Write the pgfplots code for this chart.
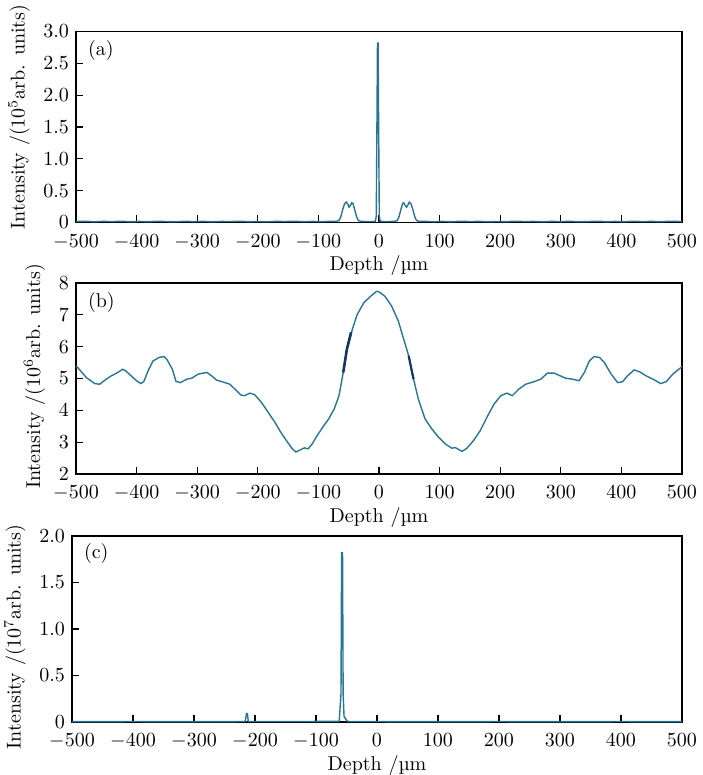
\documentclass[border=0pt]{standalone}
\usepackage{fontspec}
\usepackage{pgfplots}
\pgfplotsset{compat=1.18}
\definecolor{curve}{RGB}{38,118,148}
\definecolor{darkc}{RGB}{20,55,95}
\pgfplotsset{
  panel/.style={
    scale only axis, width=303pt, height=95.5pt,
    xmin=-500, xmax=500, xtick={-500,-400,...,500},
    tick pos=left, tick align=inside, major tick length=3.5pt,
    axis line style={line width=0.6pt},
    every tick/.style={line width=0.6pt, black},
    xticklabel style={inner ysep=0.5pt, yshift=-5.33pt},
    yticklabel style={inner ysep=0.5pt},
    xlabel={Depth /µm},
    xlabel style={yshift=0.67pt},
    every axis plot/.append style={line width=0.7pt, color=curve},
  }
}
\begin{document}
\begin{tikzpicture}
% ---------------- (a)
\begin{axis}[panel, at={(0pt,249.75pt)}, anchor=south west,
  ymin=0, ymax=3, ytick={0,0.5,1,1.5,2,2.5,3},
  yticklabels={0,0.5,1.0,1.5,2.0,2.5,3.0},
  ylabel={Intensity /(10$^5$arb. units)},
  ylabel style={xshift=5pt}]
\addplot[sharp plot] coordinates {
(-500,0.015) (-485,0.02) (-470,0.012) (-455,0.018) (-440,0.014) (-425,0.02) (-410,0.012)
(-395,0.017) (-380,0.013) (-365,0.02) (-350,0.015) (-335,0.012) (-320,0.019) (-305,0.014)
(-290,0.018) (-275,0.012) (-260,0.017) (-245,0.015) (-230,0.02) (-215,0.013) (-200,0.016)
(-185,0.012) (-170,0.018) (-155,0.015) (-140,0.02) (-125,0.013) (-110,0.017) (-95,0.014)
(-80,0.018) (-70,0.02) (-66,0.03) (-63,0.09) (-60,0.2) (-57,0.29) (-54,0.32) (-51,0.28)
(-49.5,0.24) (-47,0.27) (-45,0.31) (-43,0.3) (-40,0.2) (-37,0.09) (-34,0.03) (-30,0.018)
(-20,0.015) (-10,0.016) (-6,0.02) (-4.5,0.1) (-3.5,1.4) (-2.5,2.82) (-1.5,2.82) (-0.5,1.4) (0.5,0.1)
(2,0.02) (8,0.015) (18,0.016) (26,0.018) (30,0.03) (33,0.09) (36,0.2) (39,0.3) (41,0.31)
(43,0.27) (45.5,0.24) (48,0.28) (50,0.32) (53,0.29) (56,0.2) (59,0.09) (62,0.03) (66,0.02)
(75,0.018) (90,0.014) (105,0.017) (120,0.013) (135,0.02) (150,0.015) (165,0.018) (180,0.012)
(195,0.016) (210,0.013) (225,0.02) (240,0.015) (255,0.017) (270,0.012) (285,0.018)
(300,0.014) (315,0.019) (330,0.012) (345,0.015) (360,0.02) (375,0.013) (390,0.017)
(405,0.012) (420,0.02) (435,0.014) (450,0.018) (465,0.012) (480,0.02) (500,0.015)
};
\node[anchor=west, xshift=2.5pt] at (rel axis cs:0,0.9) {(a)};
\end{axis}
% ---------------- (b)
\begin{axis}[panel, at={(0pt,124pt)}, anchor=south west,
  ymin=2, ymax=8, ytick={2,3,...,8},
  ylabel={Intensity /(10$^6$arb. units)},
  ylabel style={xshift=1pt}]
\addplot[sharp plot] coordinates {
(-500,5.40) (-497,5.34) (-483,5.03) (-469,4.84) (-461,4.82) (-450,4.98) (-442,5.08)
(-431,5.19) (-423,5.29) (-418,5.24) (-410,5.10) (-400,4.93) (-393,4.84) (-388,4.91)
(-381,5.24) (-373,5.55) (-363,5.66) (-355,5.69) (-350,5.60) (-341,5.29) (-335,4.91)
(-328,4.87) (-317,4.98) (-309,5.01) (-298,5.14) (-284,5.19) (-276,5.08) (-268,4.95)
(-254,4.87) (-246,4.82) (-238,4.67) (-228,4.48) (-222,4.46) (-213,4.54) (-205,4.49)
(-194,4.25) (-183,3.94) (-172,3.63) (-162,3.31) (-151,3.00) (-143,2.79) (-137,2.69)
(-132,2.74) (-123,2.82) (-117,2.79) (-110,2.95) (-102,3.21) (-91,3.52) (-83,3.73)
(-74,4.04) (-66,4.46) (-59,5.19) (-53,5.92) (-44,6.54) (-36,7.01) (-25,7.38) (-14,7.58)
(-4,7.74) (0,7.72) (10,7.58) (21,7.27) (32,6.80) (40,6.28) (49,5.71) (57,4.98) (65,4.35)
(76,3.73) (87,3.42) (98,3.16) (109,2.95) (120,2.81) (126,2.83) (137,2.71) (145,2.81)
(156,3.05) (167,3.36) (178,3.78) (190,4.20) (201,4.46) (211,4.54) (220,4.46) (231,4.67)
(242,4.82) (256,4.90) (267,4.98) (278,5.17) (289,5.17) (297,5.10) (308,5.01) (319,4.98)
(330,4.93) (339,5.19) (347,5.55) (355,5.69) (364,5.66) (372,5.50) (383,5.14) (394,4.87)
(402,4.90) (410,5.08) (421,5.27) (430,5.21) (441,5.08) (452,4.98) (465,4.84) (474,4.90)
(485,5.14) (498,5.34) (500,5.38)
};
\addplot[darkc, line width=1.3pt] coordinates {(-59,5.19) (-53,5.92) (-46,6.45)};
\addplot[darkc, line width=1.1pt] coordinates {(49,5.71) (54,5.25) (57,4.98)};
\node[anchor=west, xshift=2.5pt] at (rel axis cs:0,0.9) {(b)};
\end{axis}
% ---------------- (c)
\begin{axis}[panel, at={(-2pt,0pt)}, anchor=south west, width=305pt, height=93pt,
  ymin=0, ymax=2, ytick={0,0.5,1,1.5,2},
  yticklabels={0,0.5,1.0,1.5,2.0},
  ylabel={Intensity /(10$^7$arb. units)},
  ylabel style={xshift=-4pt}]
\addplot[sharp plot] coordinates {
(-500,0.004) (-400,0.005) (-300,0.004) (-216,0.005) (-214,0.09) (-212.5,0.09) (-211,0.005)
(-150,0.005) (-100,0.006) (-62,0.008) (-59,0.3) (-58,1.82) (-56.5,1.82) (-55.5,0.3)
(-54,0.06) (-52,0.04) (-49,0.01) (-45,0.005) (0,0.005) (100,0.004) (200,0.005) (300,0.004)
(400,0.005) (500,0.004)
};
\node[anchor=west, xshift=2.5pt] at (rel axis cs:0,0.905) {(c)};
\end{axis}
\pgfresetboundingbox
\useasboundingbox (-38pt,-26.5pt) rectangle (313pt,361pt);
\end{tikzpicture}
\end{document}
